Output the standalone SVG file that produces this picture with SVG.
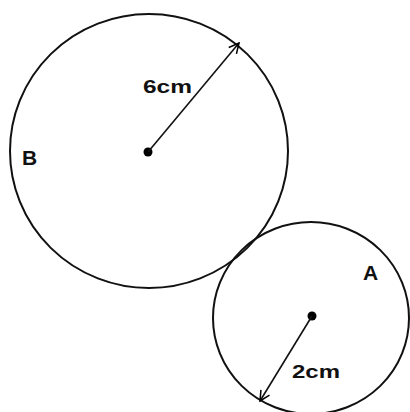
<svg xmlns="http://www.w3.org/2000/svg" width="410" height="412" viewBox="0 0 410 412">
<defs>
<marker id="arr" viewBox="0 0 12 12" refX="11" refY="6" markerWidth="12" markerHeight="12" markerUnits="userSpaceOnUse" orient="auto">
<path d="M1,1 L11,6 L1,11" fill="none" stroke="#000" stroke-width="1.5"/>
</marker>
<style>
.c{fill:none;stroke:#111;stroke-width:2}
.r{stroke:#111;stroke-width:1.6;fill:none}
.t{font-family:"Liberation Sans",Arial,sans-serif;font-weight:bold;fill:#111}
</style>
</defs>
<rect width="410" height="412" fill="#fff"/>
<g id="circleB">
<ellipse class="c" cx="149" cy="151" rx="139" ry="137"/>
<circle cx="148" cy="152" r="4.5" fill="#000"/>
<text class="t" x="22" y="165" font-size="21">B</text>
</g>
<g id="circleA">
<ellipse class="c" cx="311" cy="318" rx="98" ry="96"/>
<circle cx="312" cy="316" r="4.5" fill="#000"/>
<text class="t" x="363" y="280" font-size="21">A</text>
</g>
<g id="connectors">
<line class="r" x1="148" y1="152" x2="239" y2="43" marker-end="url(#arr)"/>
<line class="r" x1="312" y1="316" x2="260" y2="401" marker-end="url(#arr)"/>
</g>
<g id="labels">
<text class="t" x="143" y="93" font-size="19" textLength="49" lengthAdjust="spacingAndGlyphs">6cm</text>
<text class="t" x="292" y="378" font-size="19" textLength="48" lengthAdjust="spacingAndGlyphs">2cm</text>
</g>
</svg>
